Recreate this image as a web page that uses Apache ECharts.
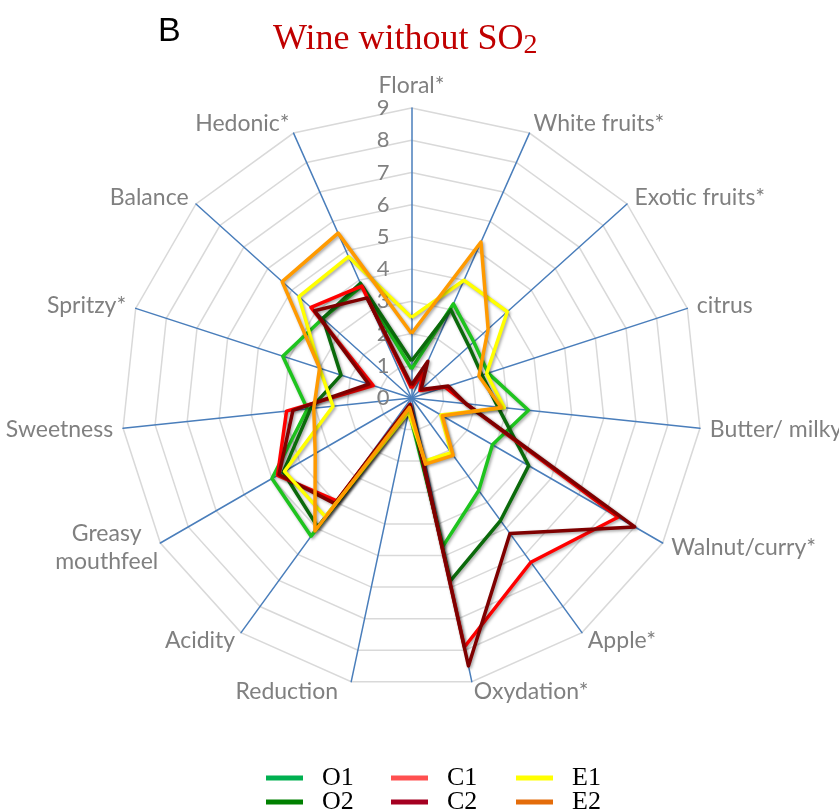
<!DOCTYPE html>
<html>
<head>
<meta charset="utf-8">
<script src="https://cdn.jsdelivr.net/npm/echarts@6/dist/echarts.min.js"></script>
<style>
  html, body { margin: 0; padding: 0; background: #ffffff; }
  #chart { width: 839px; height: 812px; }
</style>
</head>
<body>
<div id="chart"></div>
<script>
// Sensory attributes, listed clockwise from the top
const attributes = [
  'Floral*', 'White fruits*', 'Exotic fruits*', 'citrus', 'Butter/ milky',
  'Walnut/curry*', 'Apple*', 'Oxydation*', 'Reduction', 'Acidity',
  'Greasy mouthfeel', 'Sweetness', 'Spritzy*', 'Balance', 'Hedonic*'
];
const scaleMax = 9;

// Mean panel scores per wine (same attribute order)
const O1 = [0.9, 3.2, 2.6, 2.5, 3.65, 2.9, 3.55, 4.7, 0.4, 5.3, 5.0, 3.25, 4.2, 3.7, 3.8];
const O2 = [1.15, 3.0, 2.4, 2.3, 2.7, 4.2, 4.7, 5.8, 0.3, 4.95, 4.6, 3.15, 2.3, 3.7, 3.9];
const C1 = [0.3, 0.85, 0.35, 1.1, 1.7, 7.4, 6.3, 7.9, 0.2, 3.95, 4.8, 3.9, 1.25, 4.2, 3.8];
const C2 = [0.4, 1.25, 0.4, 1.2, 1.7, 8.0, 5.2, 8.5, 0.2, 4.05, 4.75, 3.7, 1.4, 4.05, 3.4];
const E1 = [2.5, 4.0, 4.0, 2.45, 2.9, 1.05, 2.1, 2.0, 0.45, 4.55, 4.55, 2.45, 3.0, 4.7, 4.8];
const E2 = [2.0, 5.3, 3.2, 2.2, 2.8, 1.1, 2.2, 2.1, 0.3, 5.1, 3.45, 3.05, 3.0, 5.4, 5.6];

const wineNames = ['O1', 'O2', 'C1', 'C2', 'E1', 'E2'];
const wineValues = [O1, O2, C1, C2, E1, E2];
const lineColors = ['#1ec41e', '#0b6a0b', '#ff0000', '#7f0000', '#ffff00', '#ff9a00'];
const legendColors = ['#00b050', '#008000', '#ff5050', '#a50021', '#ffff00', '#e46c0a'];

const labelFont = 'Lato, "Open Sans", sans-serif';
const serifFont = '"Liberation Serif", "Times New Roman", serif';

// ECharts lays radar indicators out counter-clockwise, so keep the first
// attribute on top and walk the rest backwards to read clockwise.
const n = attributes.length;
const order = attributes.map(function (_, i) { return i === 0 ? 0 : n - i; });
const reorder = function (arr) { return order.map(function (k) { return arr[k]; }); };

const indicator = reorder(attributes).map(function (name, i) {
  const ind = { name: name, min: 0, max: scaleMax };
  // only the vertical axis carries the value labels
  if (i !== 0) ind.axisLabel = { show: false };
  return ind;
});

const chart = echarts.init(document.getElementById('chart'), null, { renderer: 'canvas' });

// one legend per entry: three columns, two rows
const legendSlots = { O1: [266, 765], C1: [391, 765], E1: [516, 765], O2: [266, 789], C2: [391, 789], E2: [516, 789] };
const legends = wineNames.map(function (name, i) {
  return {
    left: legendSlots[name][0],
    top: legendSlots[name][1],
    padding: 0,
    icon: 'rect',
    itemWidth: 37,
    itemHeight: 5,
    selectedMode: false,
    data: [{ name: name, itemStyle: { color: legendColors[i], borderWidth: 0 } }],
    textStyle: {
      fontFamily: serifFont,
      fontSize: 26,
      lineHeight: 24,
      color: '#000000',
      padding: [0, 0, 0, 14]
    }
  };
});

chart.setOption({
  backgroundColor: '#ffffff',
  animation: false,
  title: [
    {
      text: 'B',
      left: 153,
      top: 10,
      textStyle: { fontFamily: '"Liberation Sans", Arial, sans-serif', fontSize: 34, fontWeight: 'normal', color: '#000000' }
    },
    {
      text: '{a|Wine without SO}{b|2}',
      left: 268,
      top: 15,
      textStyle: {
        fontWeight: 'normal',
        rich: {
          a: { fontFamily: serifFont, fontSize: 36, fontWeight: 'normal', lineHeight: 40, color: '#c00000', verticalAlign: 'middle' },
          b: { fontFamily: serifFont, fontSize: 28, fontWeight: 'normal', lineHeight: 16, color: '#c00000', verticalAlign: 'bottom' }
        }
      }
    }
  ],
  legend: legends,
  radar: {
    center: [411.5, 398],
    radius: 290,
    startAngle: 90,
    splitNumber: 9,
    shape: 'polygon',
    nameGap: 10,
    indicator: indicator,
    axisName: {
      color: '#808080',
      fontFamily: labelFont,
      fontSize: 23,
      formatter: function (name) {
        if (name === 'Greasy mouthfeel') return '{g|Greasy}\n{g|mouthfeel}';
        if (name === 'Reduction') return '{r|Reduction}';
        return name;
      },
      rich: {
        g: { color: '#808080', fontFamily: labelFont, fontSize: 23, width: 90, align: 'center', lineHeight: 28 },
        r: { color: '#808080', fontFamily: labelFont, fontSize: 23, padding: [0, 11, 0, 0] }
      }
    },
    axisLabel: {
      show: true,
      color: '#808080',
      fontFamily: labelFont,
      fontSize: 22,
      margin: 22
    },
    axisTick: { show: false },
    axisLine: { lineStyle: { color: '#4a7ebb', width: 1.5 } },
    splitLine: { lineStyle: { color: '#d9d9d9', width: 1.5 } },
    splitArea: { show: false }
  },
  series: [{
    type: 'radar',
    symbol: 'none',
    data: wineNames.map(function (name, i) {
      return {
        name: name,
        value: reorder(wineValues[i]),
        itemStyle: { color: lineColors[i] },
        lineStyle: {
          color: lineColors[i],
          width: 3.5,
          shadowColor: 'rgba(0,0,0,0.35)',
          shadowBlur: 3,
          shadowOffsetX: 1.5,
          shadowOffsetY: 1.5
        }
      };
    })
  }]
});
</script>
</body>
</html>
